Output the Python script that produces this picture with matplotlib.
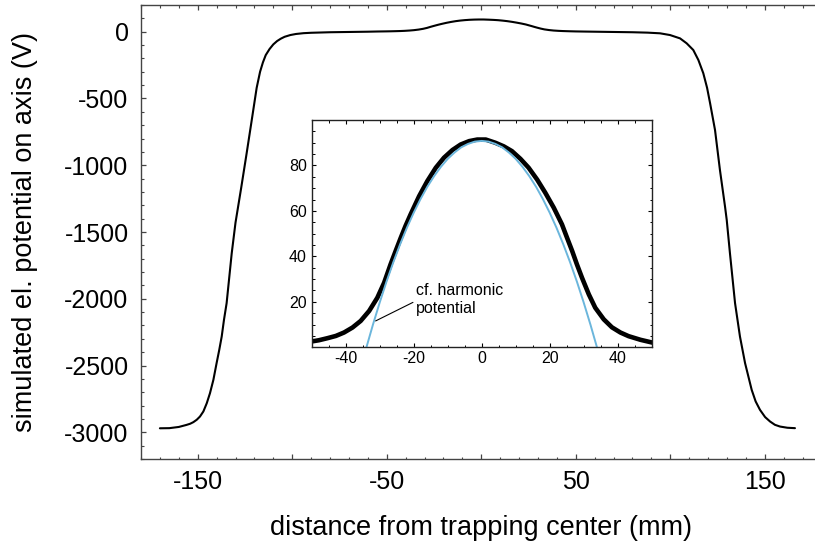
import matplotlib
matplotlib.use("Agg")
import matplotlib.pyplot as plt
from matplotlib.ticker import MultipleLocator, FixedLocator, FuncFormatter

plt.rcParams['font.family'] = ['Liberation Sans', 'DejaVu Sans']
plt.rcParams['axes.unicode_minus'] = False

# ---- data ----
dist_mm = [-170, -165, -160, -156, -154, -152.3, -150.5, -148.8, -147, -145.2,
           -143.5, -141.7, -140, -138.6, -137.3, -136.1, -134.7,
           -132, -130, -127, -124.1, -121.4, -118.8, -117, -115.5, -114, -112,
           -110, -108, -106, -104, -101, -98, -94, -90, -80, -70, -60, -55,
           -50.3, -47.9, -45.4, -42.9, -40.5, -38.0, -35.6, -33.1, -30.7, -28.7,
           -26.8, -25.3, -23.8, -22.4, -20.9, -18.4, -16, -13.5, -11.1, -8.6,
           -6.2, -3.7, -1.3, 1.2, 4.0, 6.5, 8.9, 11.4, 13.8, 16.3, 18.7, 21.2,
           23.6, 25.1, 26.6, 28.0, 29.5, 31.5, 33.4, 35.9, 38.3, 40.8, 43.2, 46.7,
           50.1, 55, 60, 70, 80, 88, 94.6, 99.9, 105.2, 108.7, 112.2,
           114.9, 117.5, 119.5, 121.1, 123.7, 126.3, 129, 129.9, 131.6, 134.3,
           136.9, 139.6, 143.1, 145.2, 147.5, 150.2, 152.8, 155.4, 158.1, 162, 166]
potential_V = [-2970, -2969, -2960, -2945, -2936, -2924, -2906, -2882, -2844, -2782,
               -2707, -2607, -2482, -2383, -2283, -2158, -2033,
               -1659, -1430, -1170, -910, -661, -420, -300, -230, -175, -130,
               -95, -70, -52, -38, -25, -17, -11, -8, -4, -2, 0, 1.5,
               2.5, 3.1, 4.0, 5.0, 6.5, 8.7, 11.6, 16.0, 21.8, 28.4,
               36.5, 42.4, 48.2, 53.4, 58.5, 66.5, 73.1, 79.0, 83.4, 86.8,
               89.2, 90.7, 91.4, 91.4, 90.0, 88.4, 86.3, 82.9, 79.0, 73.8, 68.0, 61.4,
               54.1, 48.2, 42.4, 36.5, 30.6, 23.3, 17.4, 12.3, 8.8, 6.5, 4.9, 3.3,
               2.1, 1.0, 0, -2, -4, -7, -12, -25, -50, -87, -137,
               -212, -311, -420, -536, -736, -1035, -1310, -1410, -1659, -2033,
               -2283, -2482, -2682, -2769, -2832, -2886, -2919, -2944, -2957, -2966, -2969]

harmonic_x = [-33.9, -32, -30, -28, -26, -24, -22, -20, -18, -16, -14, -12, -10,
              -8, -6, -4, -2, 0, 2, 4, 6, 8, 10, 12, 14, 16, 18, 20, 22, 24, 26,
              28, 30, 32, 33.9]
harmonic_V = [0, 9.9, 19.7, 28.9, 37.4, 45.3, 52.6, 59.2, 65.2, 70.6, 75.3, 79.4, 82.9,
              85.7, 88.0, 89.5, 90.5, 90.8, 90.5, 89.5, 88.0, 85.7, 82.9, 79.4, 75.3,
              70.6, 65.2, 59.2, 52.6, 45.3, 37.4, 28.9, 19.7, 9.9, 0]

main_xticks = [-150, -50, 50, 150]
main_yticks = [0, -500, -1000, -1500, -2000, -2500, -3000]
inset_xticks = [-40, -20, 0, 20, 40]
inset_yticks = [20, 40, 60, 80]

W, H = 815, 545
fig = plt.figure(figsize=(W / 100, H / 100), dpi=100)

# ---- main axes ----
ax = fig.add_axes([141 / W, 1 - 459 / H, (W - 141) / W, (459 - 5) / H])
ax.plot(dist_mm, potential_V, color='black', lw=1.5, solid_joinstyle='round',
        solid_capstyle='round')
ax.set_xlim(-180, 176.6)
ax.set_ylim(-3200, 200)
ax.spines['right'].set_visible(False)
for s in ['left', 'bottom', 'top']:
    ax.spines[s].set_color('#444444')
    ax.spines[s].set_linewidth(1.0)

ax.xaxis.set_major_locator(MultipleLocator(50))
ax.xaxis.set_minor_locator(MultipleLocator(10))
ax.xaxis.set_major_formatter(FuncFormatter(
    lambda v, p: f"{int(round(v))}" if int(round(v)) in main_xticks else ""))
ax.yaxis.set_major_locator(FixedLocator(main_yticks))
ax.yaxis.set_minor_locator(MultipleLocator(100))
ax.tick_params(which='both', direction='in', top=True, right=False, color='#444444')
ax.tick_params(which='major', length=3.4, width=0.9, labelsize=18)
ax.tick_params(which='minor', length=1.8, width=0.8)
ax.tick_params(axis='x', which='major', pad=8)
ax.tick_params(axis='y', which='major', pad=9)

ax.set_xlabel('distance from trapping center (mm)', fontsize=19.5)
ax.set_ylabel('simulated el. potential on axis (V)', fontsize=19.5)
ax.xaxis.set_label_coords((481.2 - 141) / (W - 141), -(528 - 459) / (459 - 5))
ax.yaxis.set_label_coords(-(141 - 25) / (W - 141), 0.5)
ax.xaxis.label.set_va('center')
ax.yaxis.label.set_va('center')

# ---- inset ----
ins = fig.add_axes([311.7 / W, 1 - 347.3 / H, (651.7 - 311.7) / W, (347.3 - 120) / H])
ins.plot(dist_mm, potential_V, color='black', lw=3.3, solid_joinstyle='round',
         solid_capstyle='butt')
ins.plot(harmonic_x, harmonic_V, color='#6bb6dc', lw=1.4, solid_joinstyle='round')
ins.set_xlim(-50, 50)
ins.set_ylim(0, 100)
ins.xaxis.set_major_locator(FixedLocator(inset_xticks))
ins.xaxis.set_minor_locator(MultipleLocator(5))
ins.yaxis.set_major_locator(FixedLocator(inset_yticks))
ins.yaxis.set_minor_locator(MultipleLocator(5))
for s in ins.spines.values():
    s.set_linewidth(1.0)
    s.set_color('#222222')
ins.tick_params(which='both', direction='in', top=True, right=True)
ins.tick_params(which='major', length=3.0, width=0.8, labelsize=11.5)
ins.tick_params(which='minor', length=1.8, width=0.7)
ins.tick_params(axis='x', which='major', pad=3)
ins.tick_params(axis='y', which='major', pad=3.5)

ins.annotate('cf. harmonic\npotential', xy=(-31.2, 11.6), xytext=(-19.4, 21.1),
             fontsize=11.5, ha='left', va='center', linespacing=1.25,
             arrowprops=dict(arrowstyle='-', color='black', lw=0.8,
                             shrinkA=0, shrinkB=0, relpos=(0, 0.45)))

fig.savefig('out.png', dpi=100)
